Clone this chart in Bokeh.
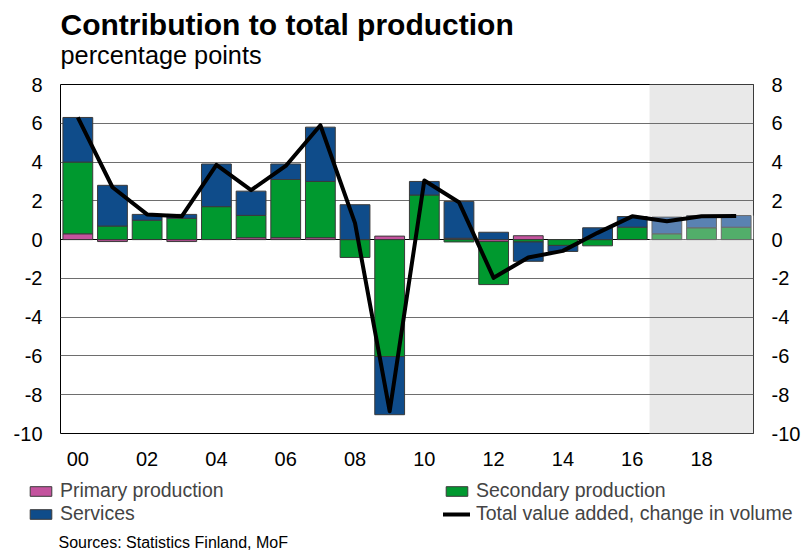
import numpy as np
from bokeh.plotting import figure
from bokeh.layouts import column
from bokeh.models import (Range1d, LinearAxis, FixedTicker, Grid, Label, Legend,
                          LegendItem, BoxAnnotation, ColumnDataSource)
from bokeh.embed import file_html
from bokeh.resources import INLINE

# ---------------- data ----------------
years = list(range(2000, 2020))
primary = [0.3, -0.1, 0.0, -0.1, 0.0, 0.1, 0.1, 0.1, 0.0, 0.18,
           0.0, 0.07, -0.1, 0.2, 0.0, 0.0, 0.0, 0.0, 0.0, 0.0]
secondary = [3.7, 0.7, 1.0, 1.1, 1.7, 1.15, 3.0, 2.9, -0.92, -6.03,
             2.3, -0.12, -2.22, -0.12, -0.3, -0.32, 0.64, 0.3, 0.61, 0.64]
services = [2.3, 2.1, 0.3, 0.2, 2.2, 1.25, 0.8, 2.8, 1.8, -3.0,
            0.7, 1.9, 0.38, -1.0, -0.31, 0.61, 0.55, 0.86, 0.63, 0.6]
total = [6.3, 2.7, 1.3, 1.2, 3.85, 2.55, 3.8, 5.9, 0.85, -8.85,
         3.05, 1.93, -1.97, -0.92, -0.58, 0.35, 1.2, 0.95, 1.2, 1.22]
forecast_start = 2017
x_ticks = [2000, 2002, 2004, 2006, 2008, 2010, 2012, 2014, 2016, 2018]
x_tick_labels = ["00", "02", "04", "06", "08", "10", "12", "14", "16", "18"]
y_ticks = [-10, -8, -6, -4, -2, 0, 2, 4, 6, 8]
y_tick_labels = ["-10", "-8", "-6", "-4", "-2", "0", "2", "4", "6", "8"]

series_names = ["Primary production", "Secondary production", "Services"]
line_name = "Total value added, change in volume"
title_text = "Contribution to total production"
subtitle_text = "percentage points"
source_text = "Sources: Statistics Finland, MoF"

# ---------------- style ----------------
FONT = "Liberation Sans"
hist_colors = ["#c4539e", "#00992f", "#0f4c8a"]
fc_colors = ["#d88dc2", "#52ae6a", "#5a82b2"]
hist_line = "#3a3a3a"
fc_line = "#6a6a6a"
BAR_W = 0.86
W = 803
H_TOP, H_CHART, H_BOT = 70, 405, 76

X0, X1 = years[0] - 0.5, years[-1] + 0.5
Y0, Y1 = y_ticks[0], y_ticks[-1]


def blank_fig(h, y_start):
    f = figure(width=W, height=h, x_range=Range1d(0, W),
               y_range=Range1d(y_start + h, y_start),
               output_backend="svg", toolbar_location=None, title=None,
               x_axis_location=None, y_axis_location=None,
               min_border_left=0, min_border_right=0, min_border_top=0,
               min_border_bottom=0, frame_align=False)
    f.outline_line_color = None
    f.xgrid.visible = False
    f.ygrid.visible = False
    f.background_fill_color = "white"
    f.border_fill_color = "white"
    return f


# ---------------- title area ----------------
top = blank_fig(H_TOP, 0)
top.add_layout(Label(x=60, y=24, text=title_text, text_font=FONT,
                     text_font_style="bold", text_font_size="30px",
                     text_baseline="alphabetic", text_align="left", text_color="black"))
top.add_layout(Label(x=60, y=54, text=subtitle_text, text_font=FONT,
                     text_font_size="25.3px", text_baseline="alphabetic",
                     text_align="left", text_color="black"))

# ---------------- chart ----------------
p = figure(width=W, height=H_CHART, x_range=Range1d(X0, X1), y_range=Range1d(Y0, Y1),
           output_backend="svg", toolbar_location=None, title=None,
           min_border_left=60, min_border_right=48, min_border_top=14,
           min_border_bottom=H_TOP + H_CHART - 433, frame_align=False)
p.background_fill_color = "white"
p.border_fill_color = "white"
p.outline_line_color = "black"
p.outline_line_width = 1

shade = BoxAnnotation(left=forecast_start - 0.5, right=X1, fill_color="#e9e9e9",
                      fill_alpha=1.0, line_color=None, level="image")
p.add_layout(shade)

p.xgrid.visible = False
p.ygrid.ticker = FixedTicker(ticks=[t for t in y_ticks if t not in (0, Y0, Y1)])
p.ygrid.grid_line_color = "#6e6e6e"
p.ygrid.grid_line_width = 1
zero_grid = Grid(dimension=1, ticker=FixedTicker(ticks=[0]),
                 grid_line_color="black", grid_line_width=1)
p.add_layout(zero_grid)

vals = [np.array(primary), np.array(secondary), np.array(services)]
yrs = np.array(years)
is_fc = yrs >= forecast_start
pos = np.zeros(len(years))
neg = np.zeros(len(years))
bottoms_tops = []
for v in vals:
    b = np.where(v >= 0, pos, neg)
    t = b + v
    pos = np.where(v >= 0, t, pos)
    neg = np.where(v < 0, t, neg)
    bottoms_tops.append((b, t))

# white gaps behind forecast bars
p.vbar(x=yrs[is_fc], bottom=neg[is_fc], top=pos[is_fc], width=1.0,
       fill_color="white", line_color=None)

sources = []
for i, v in enumerate(vals):
    b, t = bottoms_tops[i]
    keep = v != 0
    src = ColumnDataSource(dict(
        x=yrs[keep], bottom=b[keep], top=t[keep],
        fill=[fc_colors[i] if f else hist_colors[i] for f in is_fc[keep]],
        line=[fc_line if f else hist_line for f in is_fc[keep]],
    ))
    sources.append(src)
    p.vbar(x="x", bottom="bottom", top="top", width=BAR_W, source=src,
           fill_color="fill", line_color="line", line_width=1)

line_src = ColumnDataSource(dict(x=years, y=total))
p.line(x="x", y="y", source=line_src, line_color="black", line_width=4,
       line_join="round", line_cap="butt")


def style_axis(ax, standoff, ticks, labels):
    ax.ticker = FixedTicker(ticks=ticks)
    ax.major_label_overrides = dict(zip(ticks, labels))
    ax.axis_line_color = None
    ax.major_tick_line_color = None
    ax.minor_tick_line_color = None
    ax.major_tick_out = 0
    ax.major_tick_in = 0
    ax.major_label_text_font = FONT
    ax.major_label_text_font_size = "20px"
    ax.major_label_text_color = "black"
    ax.major_label_standoff = standoff


style_axis(p.yaxis[0], 18, y_ticks, y_tick_labels)
right_axis = LinearAxis()
style_axis(right_axis, 18, y_ticks, y_tick_labels)
p.add_layout(right_axis, "right")
style_axis(p.xaxis[0], 18, x_ticks, x_tick_labels)

# ---------------- legend + source ----------------
# legend renderers share the chart data; their data lie outside this strip's ranges
bot = blank_fig(H_BOT, H_TOP + H_CHART)
lr = []
for i in range(3):
    lr.append(bot.vbar(x="x", bottom="bottom", top="top", width=BAR_W,
                       source=sources[i], fill_color=hist_colors[i],
                       line_color=hist_line, line_width=1))
ll = bot.line(x="x", y="y", source=line_src, line_color="black", line_width=4,
              line_cap="round")


def make_legend(items, loc):
    return Legend(items=items, location=loc, orientation="vertical",
                  padding=0, margin=0, spacing=0, border_line_color=None,
                  background_fill_alpha=0, glyph_width=27, glyph_height=12,
                  label_standoff=6, label_text_font=FONT,
                  label_text_font_size="19.5px", label_height=20)


leg1 = make_legend([LegendItem(label=series_names[0], renderers=[lr[0]]),
                    LegendItem(label=series_names[2], renderers=[lr[2]])], (27, 26))
leg2 = make_legend([LegendItem(label=series_names[1], renderers=[lr[1]]),
                    LegendItem(label=line_name, renderers=[ll])], (443, 26))
bot.add_layout(leg1, "center")
bot.add_layout(leg2, "center")
bot.add_layout(Label(x=58, y=542, text=source_text, text_font=FONT,
                     text_font_size="16px", text_baseline="alphabetic",
                     text_align="left", text_color="black"))

layout = column(top, p, bot, spacing=0)
open("out.html", "w").write(file_html(layout, INLINE))
